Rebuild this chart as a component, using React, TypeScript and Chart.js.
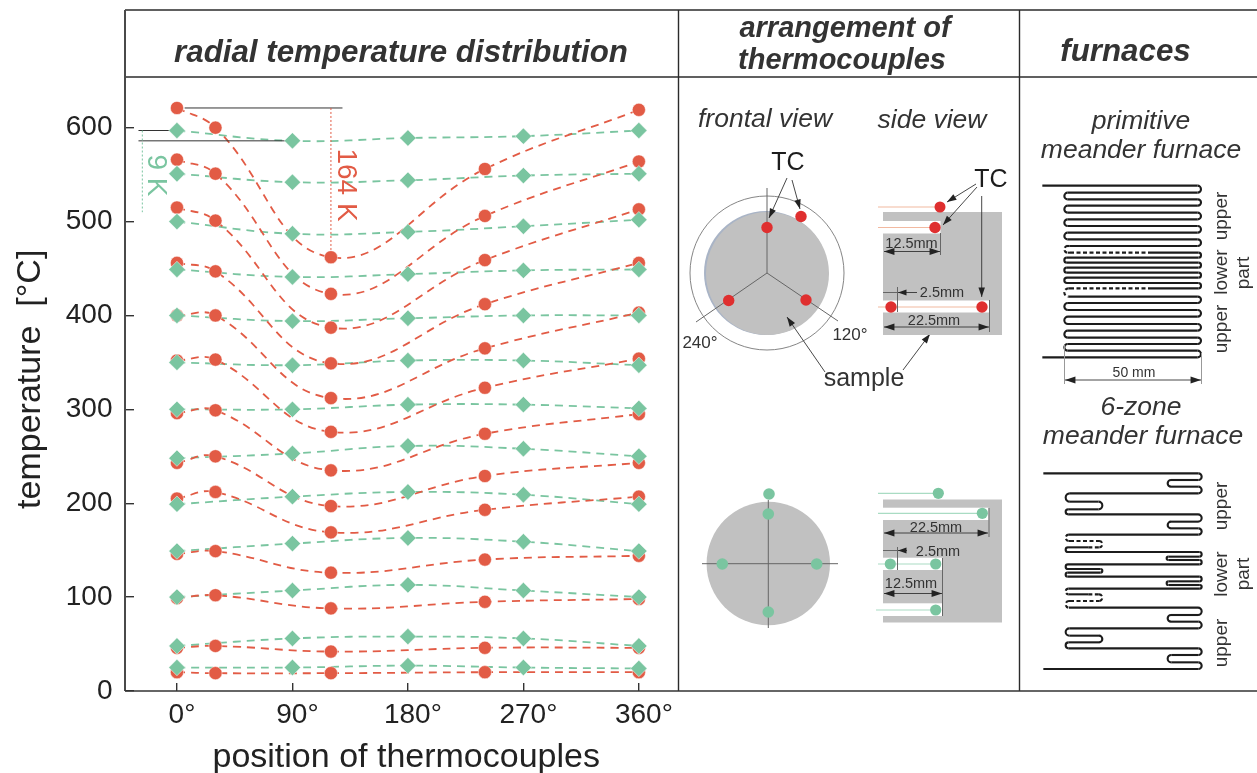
import React, { useEffect, useRef } from "react";
import { Chart, registerables } from "chart.js";

Chart.register(...registerables);

// ---- chart data ----
const redAngles = [0, 30, 120, 240, 360];
const greenAngles = [0, 90, 180, 270, 360];
const redSeries = [
  [621, 600, 462, 556, 619],
  [566, 551, 423, 506, 564],
  [515, 501, 387, 459, 513],
  [456, 447, 349, 412, 456],
  [400, 400, 312, 365, 403],
  [352, 353, 276, 323, 354],
  [296, 299, 235, 274, 295],
  [243, 250, 197, 229, 243],
  [205, 212, 169, 193, 207],
  [146, 149, 126, 140, 144],
  [99, 102, 88, 95, 98],
  [46, 48, 42, 46, 46],
  [20, 19, 19, 20, 20],
];
const greenSeries = [
  [597, 586, 589, 591, 597],
  [551, 542, 544, 549, 551],
  [500, 487, 489, 495, 502],
  [449, 441, 444, 448, 449],
  [400, 394, 397, 400, 400],
  [350, 347, 352, 352, 347],
  [300, 300, 305, 305, 301],
  [248, 253, 261, 258, 250],
  [199, 207, 212, 209, 199],
  [149, 157, 163, 159, 149],
  [100, 107, 113, 107, 100],
  [48, 56, 58, 56, 48],
  [25, 25, 27, 25, 24],
];
const redSpanLine = [[6, 621], [129, 621]];
const greenTopLine = [[-30, 597], [-1, 597]];
const greenLowLine = [[-30, 586], [87, 586]];
const redDrop = [[120, 621], [120, 462]];
const greenDrop = [[-27, 597], [-27, 510]];

const RED = "#E25B45";
const GREEN = "#7AC5A0";
const DOT_RED = "#DF2F2F";
const INK = "#333333";
const SANS = '"Liberation Sans", Arial, sans-serif';

const pts = (xs: number[], ys: number[]) => xs.map((x, i) => ({ x, y: ys[i] }));
const pairs = (p: number[][]) => p.map(([x, y]) => ({ x, y }));

// ---- drawing helpers for the schematic panels ----
type Ctx = CanvasRenderingContext2D;

function label(c: Ctx, s: string, x: number, y: number, font: string, color = INK, rot = 0, align: CanvasTextAlign = "center") {
  c.save();
  c.translate(x, y);
  c.rotate(rot);
  c.font = font;
  c.fillStyle = color;
  c.textAlign = align;
  c.textBaseline = "middle";
  c.fillText(s, 0, 1.5);
  c.restore();
}
function line(c: Ctx, x1: number, y1: number, x2: number, y2: number, color = "#555", w = 1) {
  c.strokeStyle = color;
  c.lineWidth = w;
  c.beginPath();
  c.moveTo(x1, y1);
  c.lineTo(x2, y2);
  c.stroke();
}
function head(c: Ctx, x1: number, y1: number, x2: number, y2: number, size = 10) {
  const a = Math.atan2(y2 - y1, x2 - x1);
  c.fillStyle = "#222";
  c.beginPath();
  c.moveTo(x2, y2);
  c.lineTo(x2 - size * Math.cos(a - 0.33), y2 - size * Math.sin(a - 0.33));
  c.lineTo(x2 - size * Math.cos(a + 0.33), y2 - size * Math.sin(a + 0.33));
  c.closePath();
  c.fill();
}
function arrow(c: Ctx, x1: number, y1: number, x2: number, y2: number, size = 10) {
  line(c, x1, y1, x2, y2, "#333", 0.9);
  head(c, x1, y1, x2, y2, size);
}
function dim(c: Ctx, x1: number, x2: number, y: number) {
  line(c, x1, y, x2, y, "#333", 0.9);
  head(c, x2, y, x1, y, 11);
  head(c, x1, y, x2, y, 11);
}
function dot(c: Ctx, x: number, y: number, r: number, color: string) {
  c.fillStyle = color;
  c.beginPath();
  c.arc(x, y, r, 0, Math.PI * 2);
  c.fill();
}
function rect(c: Ctx, x1: number, y1: number, x2: number, y2: number, color: string) {
  c.fillStyle = color;
  c.fillRect(x1, y1, x2 - x1, y2 - y1);
}

type Row = { y: number; ext: number; arcDash?: boolean; span?: [number, number] };

function snake(c: Ctx, ox: number, oy: number, startX: number, rows: Row[]) {
  const X = (v: number) => ox + v / 3;
  const Y = (v: number) => oy + v / 3;
  c.strokeStyle = "#1c1c1c";
  c.lineWidth = 2.1;
  c.lineCap = "butt";
  let cur = X(startX);
  const seg = (a: number, b: number, y: number, dash: boolean) => {
    c.setLineDash(dash ? [4, 2.5] : []);
    c.beginPath();
    c.moveTo(a, y);
    c.lineTo(b, y);
    c.stroke();
  };
  rows.forEach((row, i) => {
    const next = rows[i + 1];
    const dir = i % 2 === 0 ? 1 : -1;
    const y = Y(row.y);
    const r = next ? (Y(next.y) - y) / 2 : 0;
    const end = next ? X(row.ext) - dir * r : X(row.ext);
    if (row.span) {
      const a = X(row.span[0]);
      const b = X(row.span[1]);
      const lo = Math.min(cur, end);
      const hi = Math.max(cur, end);
      if (a > lo) seg(lo, a, y, false);
      seg(a, b, y, true);
      if (b < hi) seg(b, hi, y, false);
    } else {
      seg(cur, end, y, false);
    }
    if (next) {
      c.setLineDash(row.arcDash ? [3.5, 2.5] : []);
      c.beginPath();
      c.arc(end, y + r, r, -Math.PI / 2, Math.PI / 2, dir < 0);
      c.stroke();
    }
    cur = end;
  });
  c.setLineDash([]);
}

const R1 = 528;
const L1 = 118;
const meander1: Row[] = [
  ...[47, 68, 88, 107, 128, 148, 168, 188, 208].map((y, i) => ({ y, ext: i % 2 ? L1 : R1 })),
  { y: 228, ext: L1, arcDash: true, span: [L1 + 6, L1 + 16] as [number, number] },
  { y: 248, ext: R1, span: [135, 372] as [number, number] },
  ...[263, 278, 293, 308, 323, 339].map((y, i) => ({ y, ext: i % 2 ? R1 : L1 })),
  { y: 355, ext: L1, arcDash: true, span: [135, 372] as [number, number] },
  ...[380, 399, 420, 440, 462, 482, 503, 522, 542].map((y, i) => ({ y, ext: i % 2 ? L1 : R1 })),
  { y: 562, ext: 52 },
];
const R2 = 530;
const L2 = 122;
const meander2: Row[] = [
  { y: 40, ext: R2 }, { y: 60, ext: 428 }, { y: 80, ext: R2 }, { y: 100, ext: L2 },
  { y: 125, ext: 232 }, { y: 148, ext: L2 }, { y: 163, ext: R2 }, { y: 185, ext: 428 },
  { y: 205, ext: R2 }, { y: 224, ext: L2, arcDash: true }, { y: 243, ext: 232, arcDash: true, span: [135, 224] },
  { y: 262, ext: L2, span: [190, 224] }, { y: 276, ext: R2 }, { y: 290, ext: 425 }, { y: 300, ext: R2 },
  { y: 313, ext: L2 }, { y: 327, ext: 232 }, { y: 338, ext: L2 }, { y: 350, ext: R2 }, { y: 364, ext: 425 },
  { y: 375, ext: R2 }, { y: 386, ext: L2, arcDash: true }, { y: 403, ext: 232, arcDash: true, span: [190, 224] },
  { y: 423, ext: L2, arcDash: true, span: [135, 224] }, { y: 443, ext: R2 }, { y: 465, ext: 428 }, { y: 485, ext: R2 },
  { y: 505, ext: L2 }, { y: 527, ext: 232 }, { y: 547, ext: L2 }, { y: 565, ext: R2 }, { y: 585, ext: 428 },
  { y: 607, ext: R2 }, { y: 627, ext: 55 },
];

const panelPlugin = {
  id: "panels",
  afterDraw(chart: Chart) {
    const c = chart.ctx as Ctx;
    c.save();
    // frame
    const F = "#2b2b2b";
    line(c, 125, 10, 1257, 10, F, 1.4);
    line(c, 125, 77, 1257, 77, F, 1.4);
    line(c, 125, 10, 125, 691, "#4a4a4a", 2);
    line(c, 678.5, 10, 678.5, 691, F, 1.4);
    line(c, 1019.5, 10, 1019.5, 691, F, 1.4);
    line(c, 125, 691, 1257, 691, "#333", 1.6);

    // headings
    const H = `italic bold 29px ${SANS}`;
    const H2 = `italic bold 31.3px ${SANS}`;
    label(c, "radial temperature distribution", 401, 52, H2);
    label(c, "arrangement of", 845, 27, H);
    label(c, "thermocouples", 842, 59, H);
    label(c, "furnaces", 1125.5, 51, H2);

    const I = `italic 26.5px ${SANS}`;
    label(c, "frontal view", 765, 118, I);
    label(c, "side view", 932, 119, I);
    label(c, "primitive", 1141, 120, I);
    label(c, "meander furnace", 1141, 149.5, I);
    label(c, "6-zone", 1141, 406, I);
    label(c, "meander furnace", 1143, 435, I);

    // frontal view, three thermocouples
    c.strokeStyle = "#777";
    c.lineWidth = 0.9;
    c.beginPath();
    c.arc(767, 273, 77, 0, Math.PI * 2);
    c.stroke();
    dot(c, 766, 273, 62, "#A9B4C6");
    dot(c, 767.5, 273.5, 61.5, "#C1C1C1");
    line(c, 767, 188, 767, 273, "#666", 1);
    line(c, 767, 273, 838, 321, "#666", 1);
    line(c, 767, 273, 696, 322, "#666", 1);
    ([[767, 227.5], [801, 216.5], [728.7, 300.5], [806, 300]] as number[][]).forEach(([x, y]) => dot(c, x, y, 5.7, DOT_RED));
    arrow(c, 787, 178, 769, 218);
    arrow(c, 792, 180, 800, 209);
    arrow(c, 825, 372, 787, 317);
    arrow(c, 903, 370, 930, 334);
    label(c, "TC", 788, 162, `25px ${SANS}`, "#1c1c1c");
    label(c, "240°", 700, 342, `17px ${SANS}`);
    label(c, "120°", 850, 334, `17px ${SANS}`);
    label(c, "sample", 864, 378, `25px ${SANS}`);

    // side view, three thermocouples
    rect(c, 883, 212, 1002, 335, "#C1C1C1");
    rect(c, 883, 221, 940.5, 233.5, "#fff");
    rect(c, 883, 300.5, 989.5, 312.5, "#fff");
    const ORANGE = "#F2B9A0";
    line(c, 878, 207, 940, 207, ORANGE, 1.2);
    line(c, 878, 227.5, 935, 227.5, ORANGE, 1.2);
    line(c, 878, 307, 982, 307, ORANGE, 1.2);
    dot(c, 940, 207, 5.5, DOT_RED);
    dot(c, 935, 227.5, 5.7, DOT_RED);
    dot(c, 891, 307, 5.7, DOT_RED);
    dot(c, 982, 307, 5.7, DOT_RED);
    line(c, 940.5, 233, 940.5, 255, "#666", 1);
    line(c, 989.5, 300, 989.5, 332, "#666", 1);
    line(c, 897.5, 287, 897.5, 312, "#666", 1);
    dim(c, 884, 940, 251.5);
    dim(c, 884, 989, 327);
    line(c, 883, 292.5, 897, 292.5, "#666", 1);
    arrow(c, 917, 292.5, 898, 292.5, 9);
    arrow(c, 976, 184, 947, 202);
    arrow(c, 977, 187, 943, 225);
    arrow(c, 981.7, 196, 981.7, 297);
    label(c, "TC", 991, 179, `25px ${SANS}`, "#1c1c1c");
    const S = `14.5px ${SANS}`;
    label(c, "12.5mm", 911.5, 242, S);
    label(c, "2.5mm", 942, 291.5, S);
    label(c, "22.5mm", 934, 319, S);

    // frontal view, four thermocouples
    dot(c, 768.3, 563.5, 61.7, "#C1C1C1");
    line(c, 768.3, 500, 768.3, 628, "#666", 1);
    line(c, 702, 563.7, 838, 563.7, "#666", 1);
    ([[769, 494], [768.3, 514], [722.3, 564], [816.7, 564], [768.3, 612]] as number[][]).forEach(([x, y]) => dot(c, x, y, 5.8, GREEN));

    // side view, four thermocouples
    rect(c, 883, 499.5, 1002, 622.5, "#C1C1C1");
    rect(c, 883, 507.7, 988.5, 520, "#fff");
    rect(c, 883, 557.7, 942.5, 570, "#fff");
    rect(c, 883, 603.3, 942.5, 616, "#fff");
    const PALE = "#A9DCC3";
    line(c, 878, 493.3, 938, 493.3, PALE, 1.2);
    line(c, 878, 513.3, 982, 513.3, PALE, 1.2);
    line(c, 878, 564, 935, 564, PALE, 1.2);
    line(c, 876, 610, 935, 610, PALE, 1.2);
    dot(c, 938.3, 493.3, 5.6, GREEN);
    dot(c, 982.3, 513.3, 5.6, GREEN);
    dot(c, 890.3, 564, 5.6, GREEN);
    dot(c, 935.7, 564, 5.6, GREEN);
    dot(c, 935.7, 610, 5.6, GREEN);
    line(c, 989, 508, 989, 537, "#666", 1);
    line(c, 942.5, 558, 942.5, 616, "#666", 1);
    line(c, 897.5, 547, 897.5, 570, "#666", 1);
    dim(c, 884, 988, 533);
    dim(c, 884, 942, 593.5);
    line(c, 883, 550.5, 897, 550.5, "#666", 1);
    arrow(c, 907, 550.5, 898, 550.5, 9);
    label(c, "22.5mm", 936, 526, S);
    label(c, "2.5mm", 938, 550, S);
    label(c, "12.5mm", 911, 582, S);

    // furnaces
    snake(c, 1025, 170, 52, meander1);
    snake(c, 1025, 460, 55, meander2);
    line(c, 1064.5, 345, 1064.5, 384, "#999", 1);
    line(c, 1201.5, 353, 1201.5, 384, "#999", 1);
    dim(c, 1065, 1201, 380);
    label(c, "50 mm", 1134, 372, `14px ${SANS}`);
    const V = `19px ${SANS}`;
    const up = -Math.PI / 2;
    label(c, "upper", 1220.5, 216, V, INK, up);
    label(c, "lower", 1220.5, 272, V, INK, up);
    label(c, "part", 1242, 273, V, INK, up);
    label(c, "upper", 1220.5, 329, V, INK, up);
    label(c, "upper", 1220.5, 506, V, INK, up);
    label(c, "lower", 1220.5, 574, V, INK, up);
    label(c, "part", 1242, 574, V, INK, up);
    label(c, "upper", 1220.5, 643, V, INK, up);

    // annotations of the main plot
    const xs = chart.scales.x;
    const ys = chart.scales.y;
    label(c, "164 K", xs.getPixelForValue(120) + 16, ys.getPixelForValue(621) + 77, `28px ${SANS}`, RED, Math.PI / 2);
    label(c, "9 K", xs.getPixelForValue(-27) + 15, ys.getPixelForValue(597) + 45, `28px ${SANS}`, GREEN, Math.PI / 2);
    c.restore();
  },
};

export default function App() {
  const ref = useRef<HTMLCanvasElement>(null);
  useEffect(() => {
    document.body.style.margin = "0";
    const lineSet = (data: { x: number; y: number }[], color: string, order: number) => ({
      data,
      showLine: true,
      tension: 0.42,
      borderColor: color,
      borderWidth: 1.8,
      borderDash: [8, 6],
      pointRadius: 0,
      order,
    });
    const pointSet = (data: { x: number; y: number }[], color: string, style: string, radius: number, order: number) => ({
      data,
      showLine: false,
      pointStyle: style,
      pointRadius: radius,
      pointBackgroundColor: color,
      pointBorderColor: "#fff",
      pointBorderWidth: 0.5,
      order,
    });
    const ruler = (data: { x: number; y: number }[], color: string, dash: number[], order: number) => ({
      data,
      showLine: true,
      tension: 0,
      borderColor: color,
      borderWidth: 1,
      borderDash: dash,
      pointRadius: 0,
      order,
    });
    const chart = new Chart(ref.current!, {
      type: "scatter",
      data: {
        datasets: [
          ...greenSeries.map((s) => lineSet(pts(greenAngles, s), GREEN, 5)),
          ...redSeries.map((s) => lineSet(pts(redAngles, s), RED, 4)),
          ruler(pairs(redDrop), RED, [2, 2], 3),
          ruler(pairs(greenDrop), GREEN, [2, 2], 3),
          ruler(pairs(redSpanLine), "#333", [], 3),
          ruler(pairs(greenTopLine), "#333", [], 3),
          ruler(pairs(greenLowLine), "#333", [], 3),
          ...redSeries.map((s) => pointSet(pts(redAngles, s), RED, "circle", 6.6, 2)),
          ...greenSeries.map((s) => pointSet(pts(greenAngles, s), GREEN, "rectRot", 8.2, 1)),
        ] as any,
      },
      options: {
        responsive: false,
        animation: false,
        events: [],
        layout: { padding: { left: 0, right: 579, top: 77, bottom: 0 } },
        plugins: { legend: { display: false }, tooltip: { enabled: false }, title: { display: false } },
        scales: {
          x: {
            type: "linear",
            min: -40.5,
            max: 390.5,
            afterFit(s: any) { s.height = 82; },
            border: { display: false },
            grid: { drawOnChartArea: false, tickLength: -8, color: "#333", lineWidth: 1.4 },
            ticks: {
              stepSize: 90,
              includeBounds: false,
              maxRotation: 0,
              autoSkip: false,
              padding: 15,
              labelOffset: 5,
              color: "#222",
              font: { family: SANS, size: 28 },
              callback: (v: any) => `${v}°`,
            },
            title: {
              display: true,
              text: "\u00A0position of thermocouples",
              color: "#222",
              font: { family: SANS, size: 34 },
              padding: { top: 0, bottom: -5 },
            },
          },
          y: {
            type: "linear",
            min: 0,
            max: 654,
            afterFit(s: any) { s.width = 125; },
            border: { display: false },
            grid: { drawOnChartArea: false, tickLength: -9, color: "#333", lineWidth: 1.4 },
            ticks: {
              stepSize: 100,
              includeBounds: false,
              padding: 21.5,
              color: "#222",
              font: { family: SANS, size: 28 },
            },
            title: {
              display: true,
              text: "\u00A0temperature  [°C]",
              color: "#222",
              font: { family: SANS, size: 34 },
              padding: { top: 10, bottom: 0 },
            },
          },
        },
      },
      plugins: [panelPlugin as any],
    } as any);
    return () => chart.destroy();
  }, []);
  return (
    <div style={{ position: "absolute", left: 0, top: 0, width: 1257, height: 773, background: "#fff" }}>
      <canvas ref={ref} width={1257} height={773} style={{ display: "block" }} />
    </div>
  );
}
